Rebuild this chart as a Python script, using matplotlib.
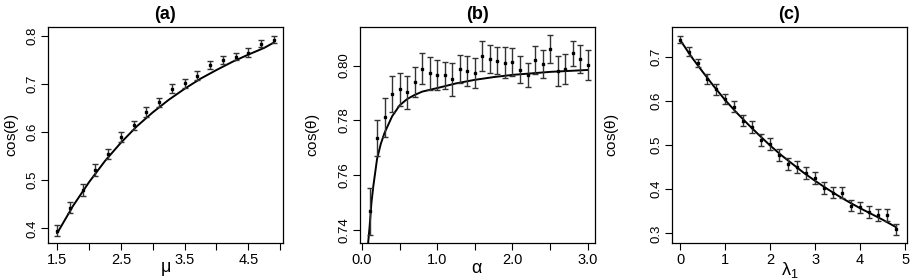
import numpy as np
import matplotlib
matplotlib.use("Agg")
import matplotlib.pyplot as plt

plt.rcParams['font.family'] = ['Liberation Sans', 'DejaVu Sans']
plt.rcParams['mathtext.fontset'] = 'custom'
plt.rcParams['mathtext.rm'] = 'Liberation Sans'
plt.rcParams['mathtext.it'] = 'Liberation Sans'

# panel (a): cos(theta) vs mu
mu_pts = [1.5, 1.7, 1.9, 2.1, 2.3, 2.5, 2.7, 2.9, 3.1, 3.3, 3.5, 3.7, 3.9, 4.1, 4.3, 4.5, 4.7, 4.9]
mu_cos = [0.395, 0.443, 0.480, 0.521, 0.555, 0.590, 0.614, 0.642, 0.662, 0.690,
          0.701, 0.717, 0.740, 0.750, 0.757, 0.765, 0.784, 0.792]
mu_err = [0.011, 0.011, 0.012, 0.012, 0.010, 0.011, 0.010, 0.010, 0.009, 0.009,
          0.010, 0.009, 0.008, 0.008, 0.008, 0.009, 0.007, 0.007]
mu_fit_x = [1.5, 1.75, 2.0, 2.25, 2.5, 2.75, 3.0, 3.25, 3.5, 3.75, 4.0, 4.25, 4.5, 4.75, 4.9]
mu_fit_y = [0.390, 0.447, 0.496, 0.540, 0.578, 0.612, 0.641, 0.667, 0.690, 0.711,
            0.729, 0.746, 0.761, 0.775, 0.786]

# panel (b): cos(theta) vs alpha
al_pts = [0.1, 0.2, 0.3, 0.4, 0.5, 0.6, 0.7, 0.8, 0.9, 1.0, 1.1, 1.2, 1.3, 1.4, 1.5,
          1.6, 1.7, 1.8, 1.9, 2.0, 2.1, 2.2, 2.3, 2.4, 2.5, 2.6, 2.7, 2.8, 2.9, 3.0]
al_cos = [0.7469, 0.7736, 0.7811, 0.7897, 0.7914, 0.7903, 0.7940, 0.7989, 0.7972, 0.7966,
          0.7964, 0.7950, 0.7987, 0.7980, 0.7972, 0.8035, 0.8024, 0.8018, 0.8011, 0.8013,
          0.7985, 0.7966, 0.8020, 0.8006, 0.8060, 0.7979, 0.7987, 0.8045, 0.8024, 0.8002]
al_err = [0.0085, 0.0066, 0.0072, 0.0065, 0.0060, 0.0060, 0.0055, 0.0058, 0.0060, 0.0055,
          0.0050, 0.0060, 0.0050, 0.0055, 0.0055, 0.0055, 0.0050, 0.0050, 0.0055, 0.0050,
          0.0050, 0.0045, 0.0050, 0.0050, 0.0050, 0.0055, 0.0055, 0.0045, 0.0050, 0.0055]
al_fit_x = [0.08, 0.1, 0.125, 0.15, 0.2, 0.25, 0.3, 0.4, 0.5, 0.6, 0.7, 0.8, 1.0,
            1.25, 1.5, 1.75, 2.0, 2.5, 3.0]
al_fit_y = [0.735, 0.741, 0.750, 0.756, 0.766, 0.7715, 0.7755, 0.7815, 0.7855, 0.7878,
            0.7893, 0.7905, 0.7918, 0.7935, 0.7948, 0.7958, 0.7966, 0.7977, 0.7984]

# panel (c): cos(theta) vs lambda_1
la_pts = [0.0, 0.2, 0.4, 0.6, 0.8, 1.0, 1.2, 1.4, 1.6, 1.8, 2.0, 2.2, 2.4, 2.6, 2.8,
          3.0, 3.2, 3.4, 3.6, 3.8, 4.0, 4.2, 4.4, 4.6, 4.8]
la_cos = [0.739, 0.711, 0.686, 0.650, 0.626, 0.604, 0.587, 0.555, 0.541, 0.512,
          0.503, 0.477, 0.457, 0.450, 0.437, 0.426, 0.403, 0.392, 0.392, 0.363,
          0.359, 0.348, 0.342, 0.342, 0.309]
la_err = [0.009, 0.010, 0.010, 0.012, 0.012, 0.012, 0.013, 0.013, 0.013, 0.014,
          0.014, 0.014, 0.014, 0.014, 0.014, 0.014, 0.013, 0.013, 0.013, 0.013,
          0.013, 0.013, 0.013, 0.013, 0.013]
la_fit_x = [0.0, 0.25, 0.5, 0.75, 1.0, 1.25, 1.5, 1.75, 2.0, 2.25, 2.5, 2.75, 3.0,
            3.25, 3.5, 3.75, 4.0, 4.25, 4.5, 4.8]
la_fit_y = [0.738, 0.700, 0.666, 0.633, 0.602, 0.574, 0.548, 0.523, 0.499, 0.477,
            0.457, 0.437, 0.419, 0.402, 0.386, 0.371, 0.357, 0.344, 0.331, 0.314]

panels = [
    ("(a)", r"$\mu$", mu_pts, mu_cos, mu_err, mu_fit_x, mu_fit_y,
     (1.355, 5.04), (0.3695, 0.818),
     [1.5, 2.0, 2.5, 3.0, 3.5, 4.0, 4.5, 5.0], ["1.5", "", "2.5", "", "3.5", "", "4.5", ""],
     [0.4, 0.5, 0.6, 0.7, 0.8], ["0.4", "0.5", "0.6", "0.7", "0.8"], 0.0527, -0.115),
    ("(b)", r"$\alpha$", al_pts, al_cos, al_err, al_fit_x, al_fit_y,
     (-0.027, 3.094), (0.7353, 0.814),
     [0.0, 0.5, 1.0, 1.5, 2.0, 2.5, 3.0], ["0.0", "", "1.0", "", "2.0", "", "3.0"],
     [0.74, 0.76, 0.78, 0.80], ["0.74", "0.76", "0.78", "0.80"], 0.3956, -0.16),
    ("(c)", r"$\lambda_1$", la_pts, la_cos, la_err, la_fit_x, la_fit_y,
     (-0.18, 5.04), (0.278, 0.767),
     [0, 1, 2, 3, 4, 5], ["0", "1", "2", "3", "4", "5"],
     [0.3, 0.4, 0.5, 0.6, 0.7], ["0.3", "0.4", "0.5", "0.6", "0.7"], 0.7385, -0.217),
]

fig = plt.figure(figsize=(9.1, 2.8), dpi=100)

for (title, xlab, xp, yp, ye, fx, fy, xlim, ylim, xt, xtl, yt, ytl, left, ylab_x) in panels:
    ax = fig.add_axes([left, 0.132, 0.258, 0.771])
    ax.plot(fx, fy, color="black", lw=1.4, zorder=2)
    ax.errorbar(xp, yp, yerr=ye, fmt="none", ecolor="#333333", elinewidth=1.0,
                capsize=2.5, capthick=1.0, zorder=3)
    ax.plot(xp, yp, "s", color="black", ms=2.0, zorder=4)
    ax.set_xlim(*xlim)
    ax.set_ylim(*ylim)
    ax.set_xticks(xt)
    ax.set_xticklabels(xtl, fontsize=10.5)
    ax.set_yticks(yt)
    ax.set_yticklabels(ytl, fontsize=9.5, rotation=90, va="center")
    ax.tick_params(direction="out", length=5, width=0.8, pad=2)
    for s in ax.spines.values():
        s.set_linewidth(0.9)
    ax.set_title(title, fontsize=13, fontweight="bold", pad=6)
    ax.set_xlabel(xlab, fontsize=13, labelpad=-5)
    ax.set_ylabel(r"cos($\theta$)", fontsize=11)
    ax.yaxis.set_label_coords(ylab_x, 0.5)

fig.savefig("out.png", dpi=100)
